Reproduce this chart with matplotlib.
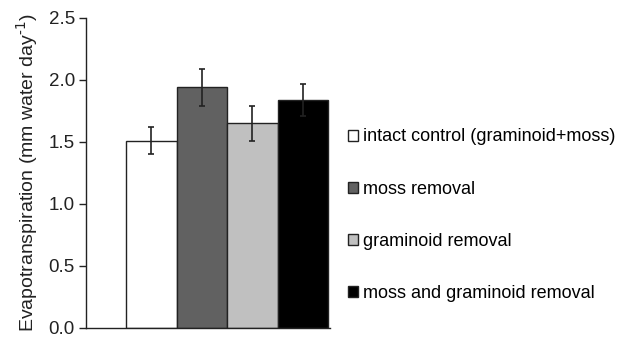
import matplotlib
matplotlib.use("Agg")
import matplotlib.pyplot as plt

treatments = ["intact control (graminoid+moss)", "moss removal",
              "graminoid removal", "moss and graminoid removal"]
et_mean = [1.51, 1.94, 1.65, 1.84]
et_err = [0.11, 0.15, 0.14, 0.13]
bar_colors = ["#ffffff", "#616161", "#c0c0c0", "#000000"]

plt.rcParams['font.family'] = ['Liberation Sans', 'DejaVu Sans']

fig = plt.figure(figsize=(6.18, 3.38), dpi=100)
ax = fig.add_axes([0.139, 0.031, 0.395, 0.916])

x = range(len(et_mean))
ax.bar(x, et_mean, width=1.0, color=bar_colors, edgecolor="#222222",
       linewidth=1.0, zorder=2)
ax.errorbar(x, et_mean, yerr=et_err, fmt="none", ecolor="#222222",
            elinewidth=1.2, capsize=2.5, capthick=1.2, zorder=3)

ax.set_xlim(-1.3, 3.54)
ax.set_ylim(0, 2.5)
ax.set_yticks([0.0, 0.5, 1.0, 1.5, 2.0, 2.5])
ax.set_yticklabels(["0.0", "0.5", "1.0", "1.5", "2.0", "2.5"])
ax.set_xticks([])
ax.tick_params(axis="y", direction="out", length=5, width=1, labelsize=13.5,
               colors="#222222", pad=3)
ax.spines["top"].set_visible(False)
ax.spines["right"].set_visible(False)
for s in ["left", "bottom"]:
    ax.spines[s].set_color("#222222")
    ax.spines[s].set_linewidth(1.0)

ax.set_ylabel(r"Evapotranspiration (mm water day$^{\text{-1}}$)", fontsize=14,
              color="#222222", labelpad=6)

handles = [plt.Rectangle((0, 0), 1, 1, facecolor=c, edgecolor="#222222", linewidth=1)
           for c in bar_colors]
fig.legend(handles, treatments, loc="center left",
           bbox_to_anchor=(0.563, 0.363), frameon=False, fontsize=13,
           handlelength=0.55, handleheight=0.55, handletextpad=0.3,
           labelspacing=1.95, borderpad=0, borderaxespad=0)

fig.savefig("out.png", dpi=100)
